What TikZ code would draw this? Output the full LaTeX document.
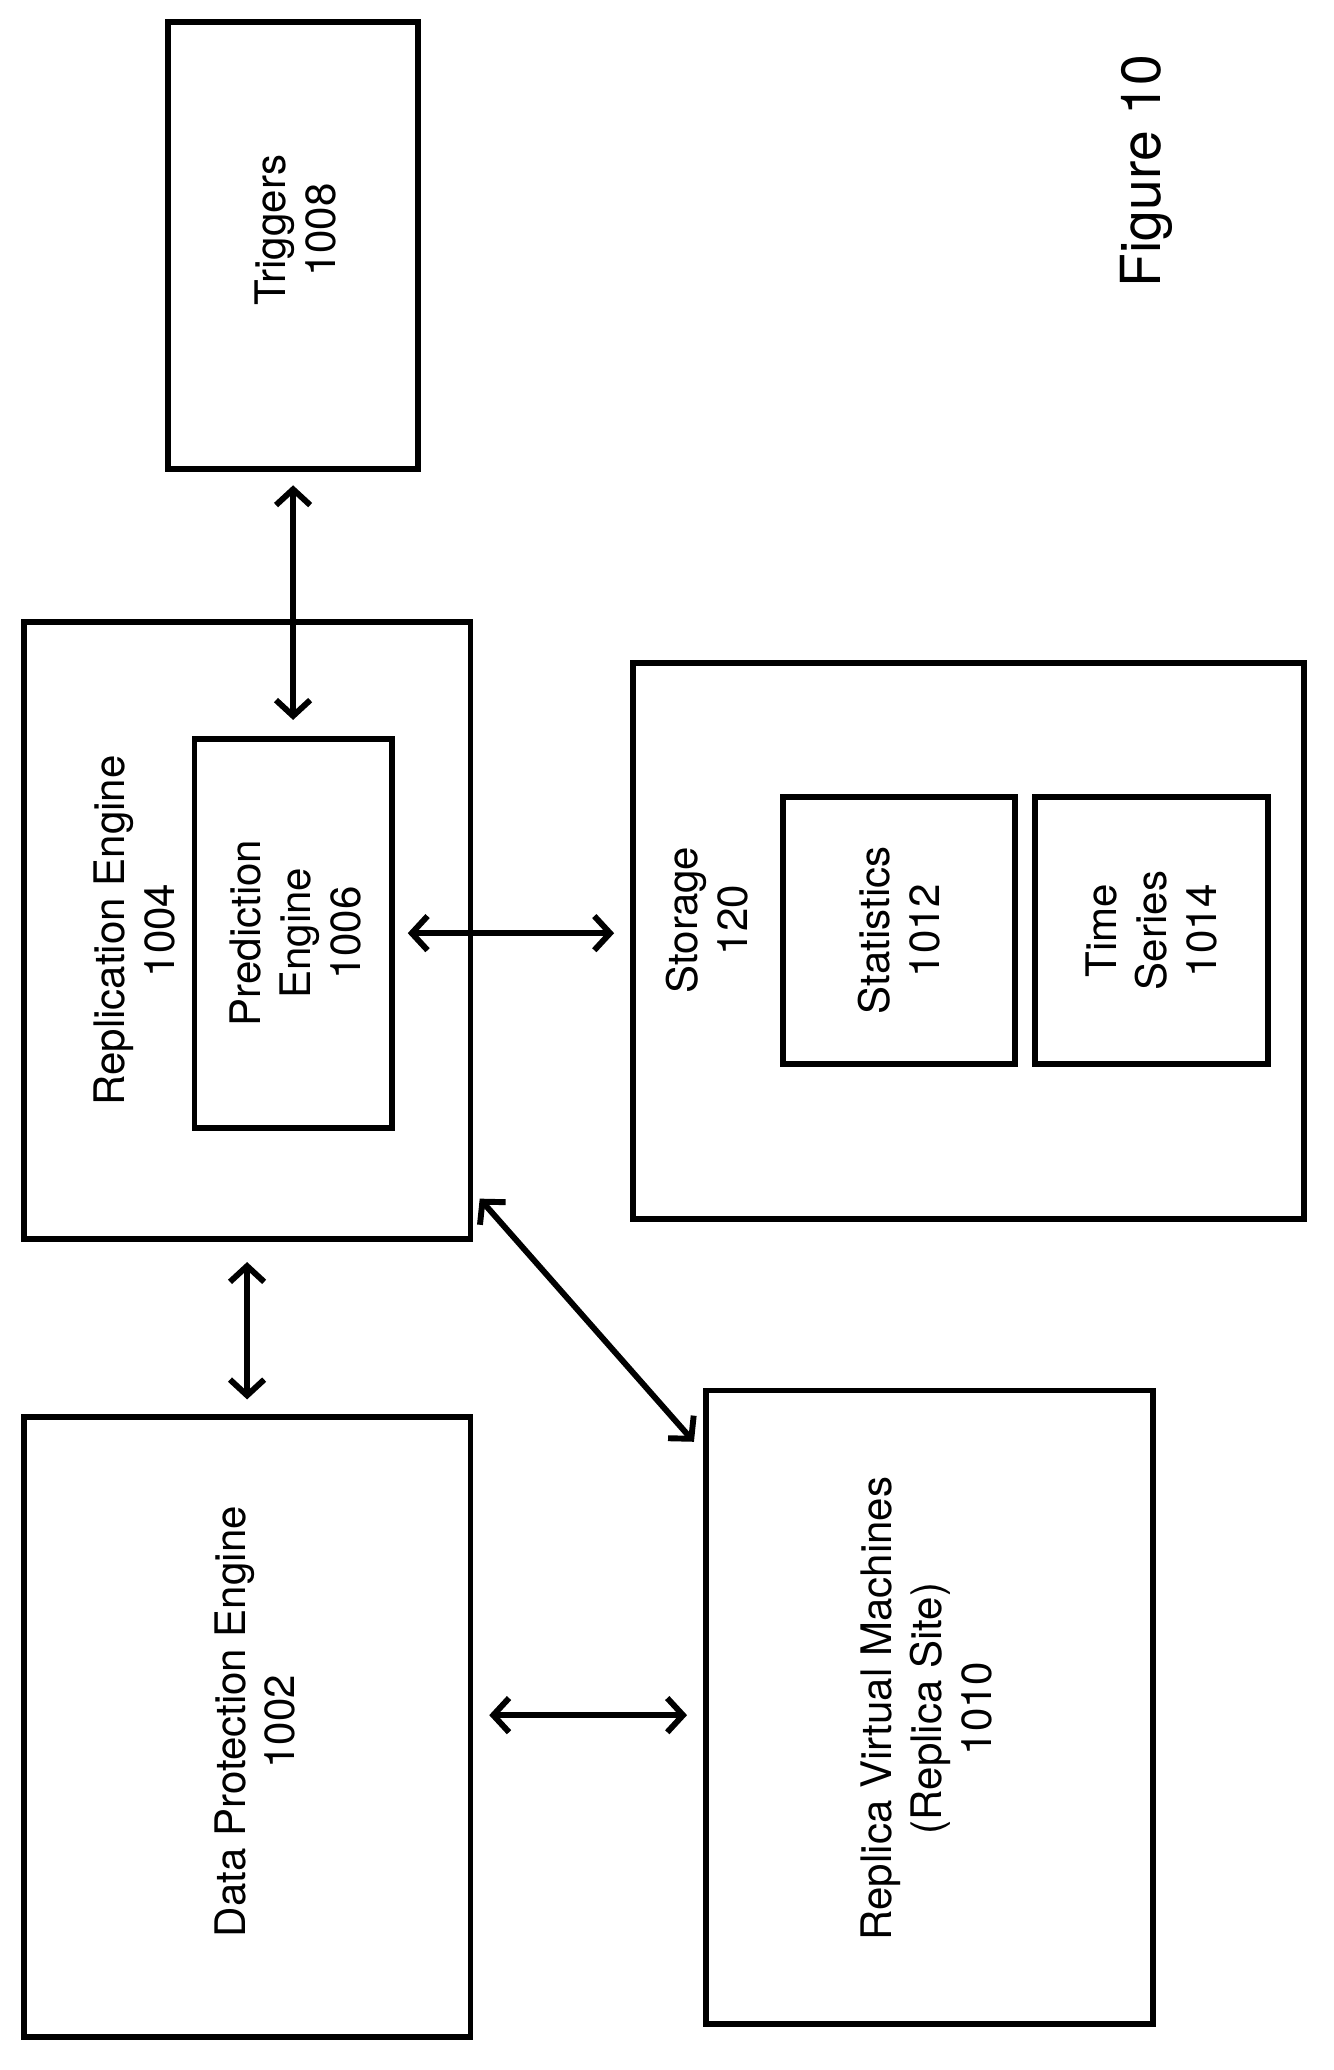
\documentclass[tikz,border=0pt]{standalone}
\usepackage{fontspec}
\setmainfont{TeX Gyre Heros}
\usetikzlibrary{arrows.meta,positioning}

\tikzset{
  box/.style={draw, line width=4.5pt, inner sep=0pt},
  lbl/.style={rotate=90, align=center, font=\fontsize{32}{38}\selectfont},
  link/.style={line width=4.5pt, {Straight Barb[length=12pt,width=26pt,line width=4.5pt]}-{Straight Barb[length=12pt,width=26pt,line width=4.5pt]}}
}

\begin{document}
\begin{tikzpicture}[x=1pt,y=1pt]
	\useasboundingbox (0,0) rectangle (1015,-1575);
	% boxes
	\node [box, minimum width=190pt, minimum height=340pt] (trig) at (223,-187) {};
	\node [box, minimum width=340pt, minimum height=470pt] (repl) at (188,-708) {};
	\node [box, minimum width=150pt, minimum height=296pt] (pred) at (223,-710) {};
	\node [box, minimum width=511pt, minimum height=423pt] (stor) at (737,-716) {};
	\node [box, minimum width=176pt, minimum height=203pt] (stat) at (684,-708) {};
	\node [box, minimum width=177pt, minimum height=203pt] (tser) at (876,-708) {};
	\node [box, minimum width=340pt, minimum height=472pt] (dp) at (188,-1314) {};
	\node [box, minimum width=340pt, minimum height=482pt] (rvm) at (707,-1299) {};
	% labels
	\node [lbl] (trigtext) at (225,-175) {Triggers\\1008};
	\node [lbl] (repltext) at (102,-708) {Replication Engine\\1004};
	\node [lbl] (predtext) at (225,-710) {Prediction\\Engine\\1006};
	\node [lbl] (stortext) at (538,-700) {Storage\\120};
	\node [lbl] (stattext) at (684,-708) {Statistics\\1012};
	\node [lbl] (tsertext) at (876,-708) {Time\\Series\\1014};
	\node [lbl] (dptext) at (194,-1310) {Data Protection Engine\\1002};
	\node [lbl] (rvmtext) at (705,-1300) {Replica Virtual Machines\\(Replica Site)\\1010};
	\node [lbl, font=\fontsize{42}{50}\selectfont] (fig) at (872,-130) {Figure 10};
	% connectors
	\coordinate (rvmend) at (528,-1097);
	\coordinate (replend) at (365,-912);
	\draw [link, shorten <=10pt, shorten >=12pt] (trig.south) -- (pred.north);
	\draw [link, shorten <=10pt, shorten >=12pt] (pred.east) -- (pred.east -| stor.west);
	\draw [link, shorten <=15pt, shorten >=11pt] (repl.south) -- (dp.north);
	\draw [link] (replend) -- (rvmend);
	\draw [link, shorten <=12pt, shorten >=12pt] ([yshift=9pt]dp.east) -- ([yshift=9pt]dp.east -| rvm.west);
\end{tikzpicture}
\end{document}
